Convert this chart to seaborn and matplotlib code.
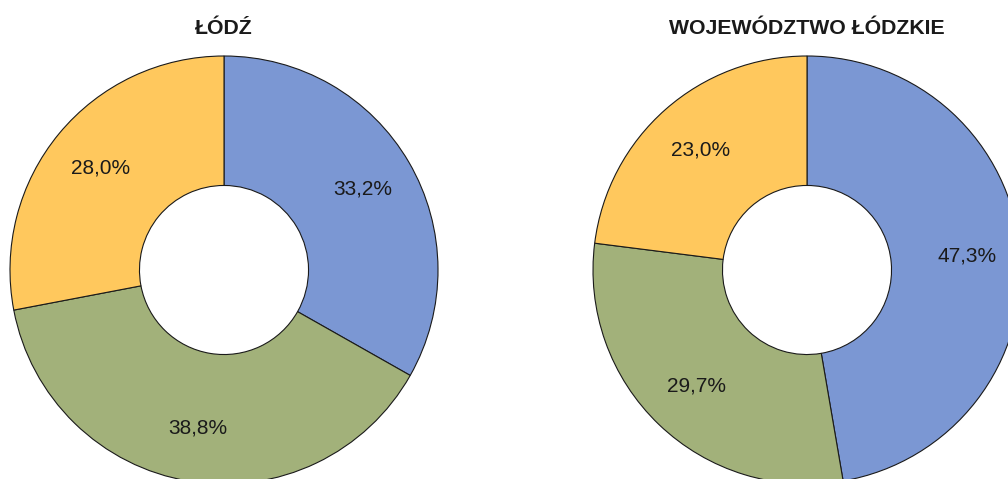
import matplotlib
matplotlib.use("Agg")
import matplotlib.pyplot as plt
import seaborn as sns

titles = ["ŁÓDŹ", "WOJEWÓDZTWO ŁÓDZKIE"]
lodz_shares = [33.2, 38.8, 28.0]
region_shares = [47.3, 29.7, 23.0]
colors = ["#7B97D3", "#A2B17A", "#FFC85D"]


def fmt_pct(v):
    return f"{v:.1f}%".replace(".", ",")


def donut(ax, values, title):
    wedges, texts, autotexts = ax.pie(
        values, colors=colors, startangle=90, counterclock=False,
        radius=1.0, autopct=fmt_pct, pctdistance=0.75,
        wedgeprops=dict(width=0.605, edgecolor="#1a1a1a", linewidth=0.8),
        textprops=dict(fontsize=15, color="#1a1a1a"))
    ax.set_xlim(-1.0, 1.0)
    ax.set_ylim(-1.0, 1.0)
    ax.set_aspect("equal")
    ax.axis("off")
    for w in wedges:
        w.set_clip_on(False)


def main():
    sns.set_style("white")
    plt.rcParams["font.family"] = ["Liberation Sans", "DejaVu Sans"]
    W, H = 1008, 479
    fig = plt.figure(figsize=(W / 100, H / 100), dpi=100)
    r = 214
    cy = H - 270
    for cx, vals, title in [(224, lodz_shares, titles[0]), (807, region_shares, titles[1])]:
        ax = fig.add_axes([(cx - r) / W, (cy - r) / H, 2 * r / W, 2 * r / H])
        donut(ax, vals, title)
        fig.text(cx / W, (H - 28) / H, title, ha="center", va="center",
                 fontsize=15.3, fontweight="bold", color="#1a1a1a")
    fig.savefig("out.png", dpi=100)


if __name__ == "__main__":
    main()
